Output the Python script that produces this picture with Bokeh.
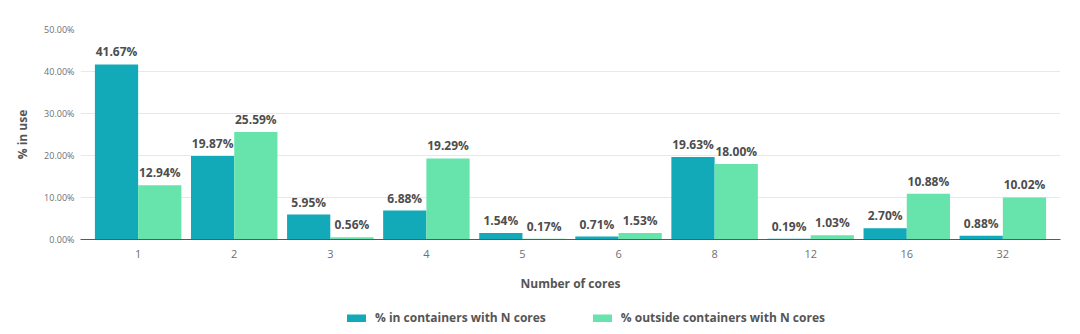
from bokeh.plotting import figure
from bokeh.layouts import column
from bokeh.models import (FactorRange, Range1d, ColumnDataSource, FixedTicker,
                          PrintfTickFormatter, Legend, LegendItem)
from bokeh.transform import dodge
from bokeh.core.properties import value
from bokeh.embed import file_html
from bokeh.resources import INLINE

cores = ["1", "2", "3", "4", "5", "6", "8", "12", "16", "32"]
inside = [41.67, 19.87, 5.95, 6.88, 1.54, 0.71, 19.63, 0.19, 2.70, 0.88]
outside = [12.94, 25.59, 0.56, 19.29, 0.17, 1.53, 18.00, 1.03, 10.88, 10.02]
y_ticks = [0, 10, 20, 30, 40, 50]
series_names = ["% in containers with N cores", "% outside containers with N cores"]

TEAL = "#12a9b8"
GREEN = "#67e4ab"
FONT = "Open Sans"

src = ColumnDataSource(dict(
    cores=cores, inside=inside, outside=outside,
    in_lbl=[f"{v:.2f}%" for v in inside],
    out_lbl=[f"{v:.2f}%" for v in outside],
))

p = figure(x_range=FactorRange(factors=cores, range_padding=0.1, range_padding_units="absolute"),
           y_range=Range1d(0, 50),
           width=1080, height=294, output_backend="svg", toolbar_location=None,
           min_border_left=80, min_border_right=20, min_border_top=29, min_border_bottom=54)
p.outline_line_color = None

p.vbar(x=dodge("cores", -0.225, range=p.x_range), top="inside", width=0.45, source=src,
       fill_color=TEAL, line_color=None)
p.vbar(x=dodge("cores", 0.225, range=p.x_range), top="outside", width=0.45, source=src,
       fill_color=GREEN, line_color=None)

for col, lbl, off in (("inside", "in_lbl", -0.225), ("outside", "out_lbl", 0.225)):
    p.text(x=dodge("cores", off, range=p.x_range), y=col, text=lbl, source=src,
           text_align="center", text_baseline="bottom", y_offset=-4,
           text_font=value(FONT), text_font_size="12px", text_font_style="bold",
           text_color="#4d4d4d")

# axes
p.yaxis.ticker = FixedTicker(ticks=y_ticks)
p.yaxis.formatter = PrintfTickFormatter(format="%.2f%%")
p.yaxis.axis_label = "% in use"
p.xaxis.axis_label = "Number of cores"
for ax in (p.xaxis[0], p.yaxis[0]):
    ax.major_tick_line_color = None
    ax.minor_tick_line_color = None
    ax.major_tick_out = 0
    ax.major_tick_in = 0
    ax.minor_tick_out = 0
    ax.minor_tick_in = 0
    ax.axis_label_text_font = FONT
    ax.axis_label_text_font_style = "bold"
    ax.axis_label_text_font_size = "12px"
    ax.axis_label_text_color = "#555555"
    ax.major_label_text_font = FONT
    ax.major_label_text_color = "#707070"
p.yaxis.axis_line_color = None
p.yaxis.major_label_text_font_size = "9px"
p.yaxis.major_label_standoff = 6
p.yaxis.axis_label_standoff = 10
p.xaxis.axis_line_color = "#5a5a5a"
p.xaxis.major_label_text_font_size = "11px"
p.xaxis.major_label_standoff = 10
p.xaxis.axis_label_standoff = 14

p.xgrid.grid_line_color = None
p.ygrid.grid_line_color = "#e8e8e8"

# legend strip below (proxy renderers draw nothing)
lp = figure(width=1080, height=40, x_range=Range1d(0, 1), y_range=Range1d(0, 1),
            output_backend="svg", toolbar_location=None,
            x_axis_location=None, y_axis_location=None, min_border=0)
lp.outline_line_color = None
lp.xgrid.grid_line_color = None
lp.ygrid.grid_line_color = None
nan = float("nan")
r_in = lp.line(x=[nan], y=[nan], line_color=TEAL, line_width=8, line_cap="round")
r_out = lp.line(x=[nan], y=[nan], line_color=GREEN, line_width=8, line_cap="round")
legend = Legend(items=[LegendItem(label=series_names[0], renderers=[r_in]),
                       LegendItem(label=series_names[1], renderers=[r_out])],
                orientation="horizontal", location=(267, 8),
                glyph_width=19, glyph_height=8, label_standoff=9, spacing=47,
                padding=0, margin=0, label_height=16,
                label_text_font=FONT, label_text_font_style="bold",
                label_text_font_size="12px", label_text_color="#555555",
                background_fill_alpha=0, border_line_color=None)
lp.add_layout(legend, "center")

layout = column(p, lp, spacing=0)
open("out.html", "w").write(file_html(layout, INLINE))
